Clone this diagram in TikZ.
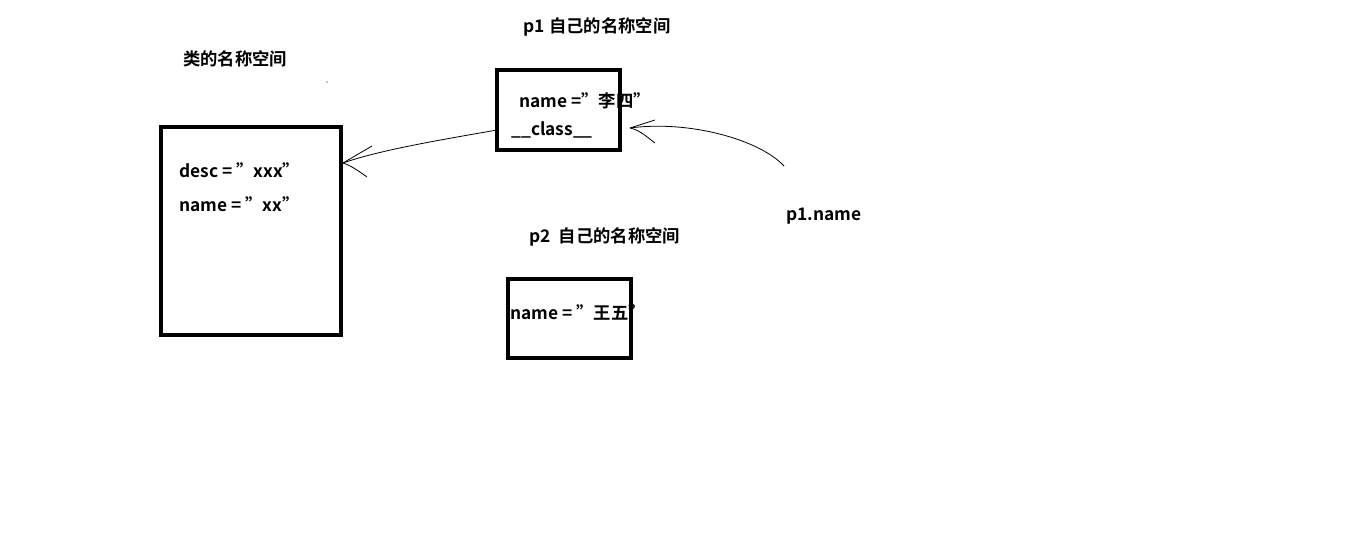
\documentclass[tikz,border=0pt]{standalone}
\usepackage{fontspec}
\setmainfont{Noto Sans CJK SC}[BoldFont={Noto Sans CJK SC Bold}]
\begin{document}
\begin{tikzpicture}[x=0.75pt,y=-0.75pt,
  box/.style={draw,line width=2.4pt},
  lbl/.style={font=\bfseries\fontsize{13}{15}\selectfont,inner sep=0pt},
  conn/.style={line width=0.6pt}]
\useasboundingbox (0,0) rectangle (1349,548);
\draw[box] (161,127) rectangle (341,335);
\draw[box] (497,70) rectangle (620,150);
\draw[box] (508,279) rectangle (631,358);
\node[lbl] (t1) at (235,59) {类的名称空间};
\node[lbl] (t2) at (597,27) {p1 自己的名称空间};
\node[lbl] (t3) at (585,101) {name ="李四"};
\node[lbl] (cls) at (552,130) {\_\_class\_\_};
\node[lbl,anchor=west] (d1) at (179,170) {desc = "xxx"};
\node[lbl,anchor=west] (d2) at (179,204) {name = "xx"};
\node[lbl] (t4) at (605,237) {p2\ \ 自己的名称空间};
\node[lbl] (t5) at (578,313) {name = "王五"};
\node[lbl] (pn) at (824,216) {p1.name};
\coordinate (a0) at (497,130);
\coordinate (a1) at (343,163);
\coordinate (b0) at (784,166);
\coordinate (b1) at (630,128);
\draw[conn] (a0) .. controls (440,140) and (380,150) .. (a1);
\draw[conn] (a1) -- (372,146) (a1) .. controls (352,166) and (360,172) .. (367,177);
\draw[conn] (b0) .. controls (760,140) and (690,120) .. (b1);
\draw[conn] (b1) -- (655,120) (b1) .. controls (640,130) and (648,138) .. (655,143);
\fill (327,82) circle (0.6);
\end{tikzpicture}
\end{document}
